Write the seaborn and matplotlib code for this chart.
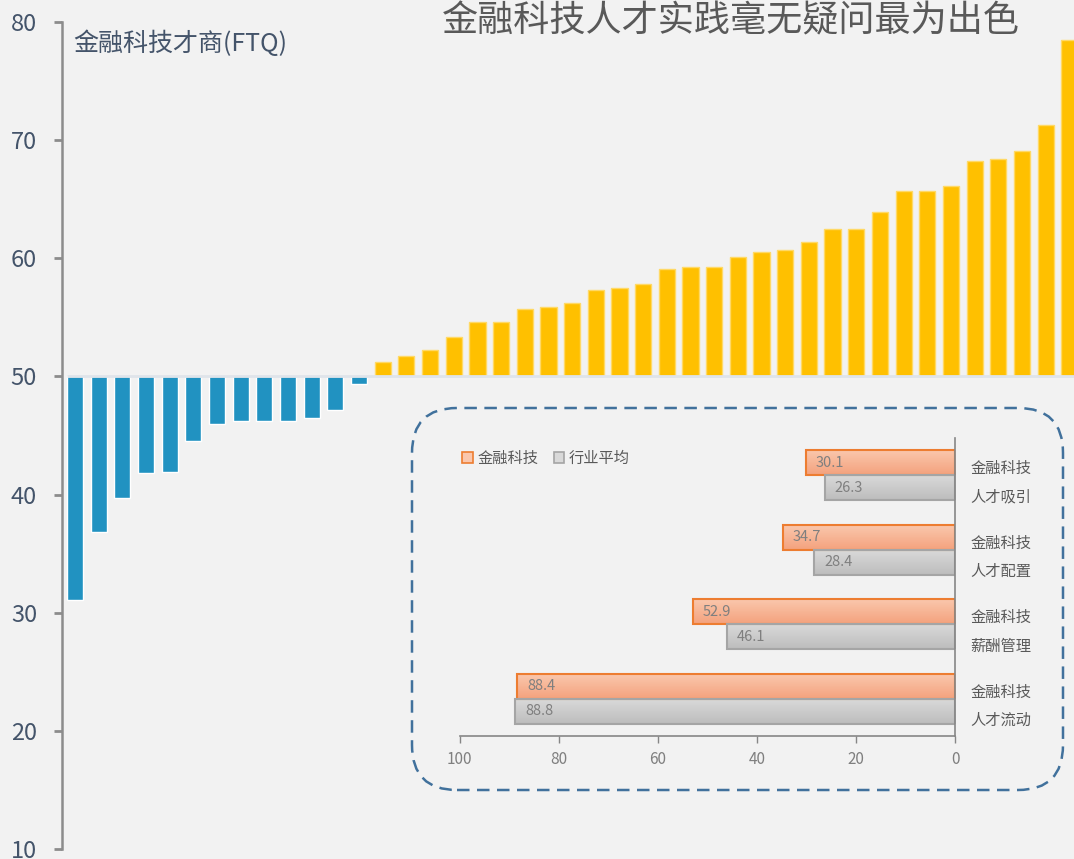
import numpy as np
import pandas as pd
import seaborn as sns
import matplotlib.pyplot as plt
from matplotlib.patches import FancyBboxPatch, Patch
from matplotlib.colors import LinearSegmentedColormap
from matplotlib.transforms import ScaledTranslation

# FTQ scores below / above the 50 baseline, left to right
lowVals = [31.1, 36.8, 39.7, 41.8, 41.9, 44.5, 46.0, 46.2, 46.2, 46.2, 46.5, 47.2, 49.4]
highVals = [51.2, 51.7, 52.2, 53.3, 54.6, 54.6, 55.7, 55.9, 56.2, 57.3, 57.5, 57.8,
            59.1, 59.3, 59.3, 60.1, 60.5, 60.7, 61.4, 62.5, 62.5, 63.9, 65.7, 65.7,
            66.1, 68.2, 68.4, 69.1, 71.3, 78.5]
baseline = 50
yTicks = [10, 20, 30, 40, 50, 60, 70, 80]

# inset: fintech vs industry average by dimension
insetCats = ['人才吸引', '人才配置', '薪酬管理', '人才流动']
fintechVals = [30.1, 34.7, 52.9, 88.4]
industryVals = [26.3, 28.4, 46.1, 88.8]
seriesNames = ['金融科技', '行业平均']
insetTicks = [100, 80, 60, 40, 20, 0]

sns.set_theme(style='white')
plt.rcParams['font.family'] = ['Noto Sans CJK SC', 'DejaVu Sans']
plt.rcParams['axes.unicode_minus'] = False

bg = '#f2f2f2'
W, H = 1074, 859
fig = plt.figure(figsize=(W / 100, H / 100), dpi=100, facecolor=bg)

# ---- main chart
vals = lowVals + highVals
dfMain = pd.DataFrame({'idx': range(len(vals)), 'ftq': vals})
dfMain['grp'] = np.where(dfMain.ftq < baseline, 'low', 'high')
dfMain['dev'] = dfMain.ftq - baseline

ax = fig.add_axes([62 / W, 10 / H, 1 - 62 / W, 827 / H])
ax.set_facecolor(bg)
sns.barplot(data=dfMain, x='idx', y='dev', hue='grp', hue_order=['low', 'high'],
            palette={'low': '#2192c1', 'high': '#ffc000'}, dodge=False, width=0.68,
            bottom=baseline, saturation=1, legend=False, errorbar=None, ax=ax)
for p in ax.patches:
    if p.get_facecolor()[0] > 0.9:
        p.set_edgecolor('#ffd966')
        p.set_linewidth(1)
ax.hlines(baseline, -0.34, 43, color='#dfe4ea', lw=2, zorder=3)

ax.set_ylim(10, 80)
ax.set_xlim(-0.55, 42.2)
ax.set_yticks(yTicks)
ax.set_xticks([])
ax.set_xlabel('')
ax.set_ylabel('')
for s in ['top', 'right', 'bottom']:
    ax.spines[s].set_visible(False)
ax.spines['left'].set_color('#8c8c8c')
ax.spines['left'].set_linewidth(1.8)
ax.tick_params(axis='y', left=True, length=6, width=2, color='#8c8c8c',
               labelsize=17, labelcolor='#44546a', pad=12)

fig.text(73 / W, 1 - 44 / H, '金融科技才商(FTQ)', fontsize=18, color='#44546a',
         ha='left', va='center')
fig.text(731 / W, 1 - 21 / H, '金融科技人才实践毫无疑问最为出色', fontsize=26,
         color='#595959', ha='center', va='center')

# ---- inset chart
dfIn = pd.DataFrame({
    'cat': insetCats * 2,
    'series': [seriesNames[0]] * 4 + [seriesNames[1]] * 4,
    'val': fintechVals + industryVals,
})
axIn = fig.add_axes([459.5 / W, 123 / H, 495.5 / W, 298 / H])
axIn.patch.set_alpha(0)
sns.barplot(data=dfIn, y='cat', x='val', hue='series', hue_order=seriesNames,
            palette=['#f7ad8c', '#c6c6c6'], orient='y', width=0.67, saturation=1,
            errorbar=None, legend=False, ax=axIn)

edgeCols = ['#ed7d31', '#a5a5a5']
gradCols = [('#fac7ad', '#f4a27d'), ('#d9d9d9', '#bdbdbd')]
grad = np.linspace(0, 1, 64).reshape(-1, 1)
for ci, cont in enumerate(axIn.containers):
    cmap = LinearSegmentedColormap.from_list('g%d' % ci, gradCols[ci])
    for p in cont:
        x0, y0, w, h = p.get_x(), p.get_y(), p.get_width(), p.get_height()
        im = axIn.imshow(grad, extent=(x0, x0 + w, y0 + h, y0), origin='upper',
                         cmap=cmap, aspect='auto', zorder=1)
        im.set_clip_path(p)
        p.set_facecolor('none')
        p.set_edgecolor(edgeCols[ci])
        p.set_linewidth(1.5)
        p.set_zorder(2)
        axIn.text(w - 2, y0 + h / 2, f'{w:.1f}', ha='left', va='center',
                  fontsize=10.5, color='#7f7f7f', zorder=3)

axIn.set_xlim(100, 0)
axIn.set_ylim(3.5, -0.5)
axIn.set_xticks(insetTicks)
axIn.set_yticks(range(len(insetCats)))
axIn.yaxis.tick_right()
axIn.set_yticklabels([f'{seriesNames[0]}\n{c}' for c in insetCats], linespacing=1.85)
# nudge the two-line labels up a little so each line sits beside its bar
for lbl in axIn.get_yticklabels():
    lbl.set_transform(lbl.get_transform() + ScaledTranslation(0, 0.03, fig.dpi_scale_trans))
axIn.set_xlabel('')
axIn.set_ylabel('')
for s in ['top', 'left']:
    axIn.spines[s].set_visible(False)
for s in ['right', 'bottom']:
    axIn.spines[s].set_color('#868686')
    axIn.spines[s].set_linewidth(1.2)
axIn.tick_params(axis='y', length=0, pad=11, labelsize=11, labelcolor='#595959')
axIn.tick_params(axis='x', bottom=True, length=5, width=1, color='#868686',
                 labelsize=11, labelcolor='#7f7f7f', pad=6)

handles = [Patch(facecolor=gradCols[i][0], edgecolor=edgeCols[i], lw=1.2, label=seriesNames[i])
           for i in range(2)]
axIn.legend(handles=handles, loc='upper left', bbox_to_anchor=(462 / W, 1 - 450 / H),
            bbox_transform=fig.transFigure, ncol=2, frameon=False, fontsize=11,
            handlelength=0.7, handleheight=0.7, handletextpad=0.3, columnspacing=1.0,
            borderpad=0, borderaxespad=0, labelcolor='#595959')

box = FancyBboxPatch((4.12, 0.69), 6.51, 3.82, boxstyle='round,pad=0,rounding_size=0.45',
                     transform=fig.dpi_scale_trans, fill=False, ec='#41719c', lw=1.8,
                     ls=(0, (5, 3)))
fig.patches.append(box)

fig.savefig('out.png', dpi=100, facecolor=bg)
